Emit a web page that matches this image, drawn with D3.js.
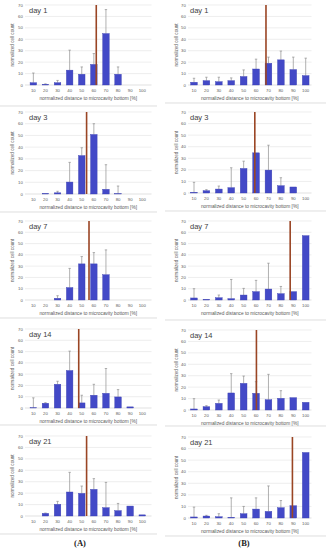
<!DOCTYPE html>
<html><head><meta charset="utf-8">
<script src="https://cdn.jsdelivr.net/npm/d3@7/dist/d3.min.js"></script>
<style>body{margin:0;background:#fff;}svg{display:block;}</style>
</head><body>
<script>
// ---- data ----
const categories = ["10","20","30","40","50","60","70","80","90","100"];
const dayLabels = ["day 1","day 3","day 7","day 14","day 21"];
const yTicks = [0,10,20,30,40,50,60,70];

// Column A: mean values and upper error bar tips
const meanA_d1  = [2, 0.6, 2, 13, 9.4, 18, 45, 9.4, 0, 0];
const errA_d1   = [10.5, 1, 4, 30.5, 15.8, 27.5, 66, 15.8, 0, 0];
const meanA_d3  = [0, 0.5, 1, 10.2, 32.8, 50.8, 4, 0.3, 0, 0];
const errA_d3   = [0, 0.8, 2.3, 27, 39.5, 60, 25, 6.8, 0, 0];
const meanA_d7  = [0, 0, 1.5, 11, 32, 32, 22.4, 0, 0, 0];
const errA_d7   = [0, 0, 3.8, 28, 38.5, 42, 44.4, 0, 0, 0];
const meanA_d14 = [0.2, 4.2, 21, 33.2, 4.5, 11.3, 13, 9.8, 1, 0];
const errA_d14  = [9, 4.7, 23.7, 50.4, 11.3, 21, 35, 16.3, 1, 0];
const meanA_d21 = [0, 2.3, 10.2, 21, 19.8, 23.3, 7.3, 4.7, 8.7, 1];
const errA_d21  = [0, 2.6, 12.8, 38.2, 26.2, 32.7, 29.4, 11, 8.7, 1];

// Column B
const meanB_d1  = [2.4, 3.8, 2.9, 3.8, 7.4, 14, 19, 22, 13.5, 8.2];
const errB_d1   = [5.9, 6.8, 6.8, 6.2, 13.2, 22.6, 24.4, 29.7, 24.4, 23.5];
const meanB_d3  = [0.6, 2, 3.4, 4.6, 21.2, 34.7, 19.8, 6.3, 5.2, 0];
const errB_d3   = [9.2, 2.9, 6, 21.8, 27.5, 34.7, 41.3, 13.2, 5.2, 0];
const meanB_d7  = [1.8, 0.6, 2, 1.2, 4.4, 7.4, 9.7, 5.6, 7.4, 57];
const errB_d7   = [10, 0.6, 4.4, 18.2, 10.3, 17.4, 32.6, 12, 7.4, 57];
const meanB_d14 = [0.9, 2.9, 5.8, 14.9, 23.3, 14.6, 9, 10.2, 10.8, 6.7];
const errB_d14  = [9.9, 3.8, 8.7, 31.8, 29.7, 24.8, 31.2, 16.9, 10.8, 6.7];
const meanB_d21 = [0.9, 1.7, 1.1, 0.6, 3.7, 7.7, 5.7, 8.9, 10.6, 56.6];
const errB_d21  = [9.4, 2.3, 3.7, 17.4, 10, 17.4, 27.7, 15.1, 10.6, 56.6];

// vertical reference line position (percent of distance)
const refLineA = [62, 54, 56, 47.5, 54];
const refLineB = [68, 59, 87.5, 60.3, 89.3];

const xTitle = "normalized distance to microcavity bottom [%]";
const yTitle = "normalized cell count";

// ---- layout ----
const W = 328, H = 550;
const svg = d3.select("body").append("svg").attr("width", W).attr("height", H);

const colA = {x0: 27.3, x1: 148.3, gx0: 25, gx1: 151.5, tickX: 22.8, yTitleX: 14, titleX: 29,
  rows: [[5,85],[112,194],[221,300],[329,408],[436,516]],
  seps: [106, 212, 318, 425, 534], sepX: [0, 157],
  means: [meanA_d1, meanA_d3, meanA_d7, meanA_d14, meanA_d21],
  errs: [errA_d1, errA_d3, errA_d7, errA_d14, errA_d21], ref: refLineA, label: "(A)", labelX: 80};
const colB = {x0: 187.8, x1: 311.9, gx0: 188, gx1: 311.5, tickX: 185.8, yTitleX: 178, titleX: 190,
  rows: [[5,85],[112,193],[221,300],[330,410],[437,518]],
  seps: [103, 211, 320, 426, 536], sepX: [165, 326],
  means: [meanB_d1, meanB_d3, meanB_d7, meanB_d14, meanB_d21],
  errs: [errB_d1, errB_d3, errB_d7, errB_d14, errB_d21], ref: refLineB, label: "(B)", labelX: 244};

const font = "'Liberation Sans', Arial, sans-serif";
const textCol = "#595959";

function drawColumn(col) {
  col.rows.forEach((r, i) => {
    const g = svg.append("g");
    const y = d3.scaleLinear().domain([0, 70]).range([r[1], r[0]]);
    const x = d3.scaleBand().domain(categories).range([col.x0, col.x1]).paddingInner(0.46).paddingOuter(0.23);
    const xc = d3.scaleLinear().domain([10, 100])
      .range([x("10") + x.bandwidth()/2, x("100") + x.bandwidth()/2]);

    // gridlines
    g.selectAll("line.grid").data(yTicks).join("line")
      .attr("x1", col.gx0).attr("x2", col.gx1)
      .attr("y1", d => y(d)).attr("y2", d => y(d))
      .attr("stroke", d => d === 0 ? "#cfcfcf" : "#e3e3e3").attr("stroke-width", 0.6);
    // y tick labels
    g.selectAll("text.yt").data(yTicks).join("text")
      .attr("x", col.tickX).attr("y", d => y(d) + 1.5)
      .attr("text-anchor", "end").attr("font-size", 4.3).attr("font-family", font).attr("fill", textCol)
      .text(d => d);
    // x tick labels
    g.selectAll("text.xt").data(categories).join("text")
      .attr("x", d => x(d) + x.bandwidth()/2).attr("y", r[1] + 7)
      .attr("text-anchor", "middle").attr("font-size", 4.3).attr("font-family", font).attr("fill", textCol)
      .text(d => d);
    // axis titles
    g.append("text").attr("x", (col.gx0 + col.gx1)/2).attr("y", r[1] + 15)
      .attr("text-anchor", "middle").attr("font-size", 4.8).attr("font-family", font).attr("fill", textCol)
      .text(xTitle);
    g.append("text").attr("transform", `translate(${col.yTitleX},${(r[0]+r[1])/2}) rotate(-90)`)
      .attr("text-anchor", "middle").attr("font-size", 4.6).attr("font-family", font).attr("fill", textCol)
      .text(yTitle);
    // day label
    g.append("text").attr("x", col.titleX).attr("y", r[0] + 8)
      .attr("font-size", 7.5).attr("font-family", font).attr("fill", "#404040")
      .text(dayLabels[i]);

    const means = col.means[i], errs = col.errs[i];
    // error bars
    const eg = g.append("g").attr("stroke", "#8f8f8f").attr("stroke-width", 0.7);
    categories.forEach((c, k) => {
      if (errs[k] > means[k] + 0.3) {
        const cx = x(c) + x.bandwidth()/2;
        eg.append("line").attr("x1", cx).attr("x2", cx).attr("y1", y(means[k])).attr("y2", y(errs[k]));
        eg.append("line").attr("x1", cx - 1.2).attr("x2", cx + 1.2).attr("y1", y(errs[k])).attr("y2", y(errs[k]));
      }
    });
    // bars
    g.selectAll("rect.bar").data(categories).join("rect")
      .attr("x", d => x(d)).attr("width", x.bandwidth())
      .attr("y", (d, k) => y(means[k])).attr("height", (d, k) => y(0) - y(means[k]))
      .attr("fill", "#4349c7").attr("stroke", "#3a3fb0").attr("stroke-width", 0.4);
    // reference line
    g.append("line").attr("x1", xc(col.ref[i])).attr("x2", xc(col.ref[i]))
      .attr("y1", y(0)).attr("y2", y(70))
      .attr("stroke", "#9a4524").attr("stroke-width", 1.6);
  });
  // separators
  col.seps.forEach(s => {
    svg.append("line").attr("x1", col.sepX[0]).attr("x2", col.sepX[1]).attr("y1", s).attr("y2", s)
      .attr("stroke", "#d0d0d0").attr("stroke-width", 0.7);
  });
  svg.append("text").attr("x", col.labelX).attr("y", 546).attr("text-anchor", "middle")
    .attr("font-family", "'Liberation Serif', 'Times New Roman', serif").attr("font-weight", "bold")
    .attr("font-size", 8.5).attr("fill", "#222").text(col.label);
}
drawColumn(colA);
drawColumn(colB);
</script>
</body></html>
